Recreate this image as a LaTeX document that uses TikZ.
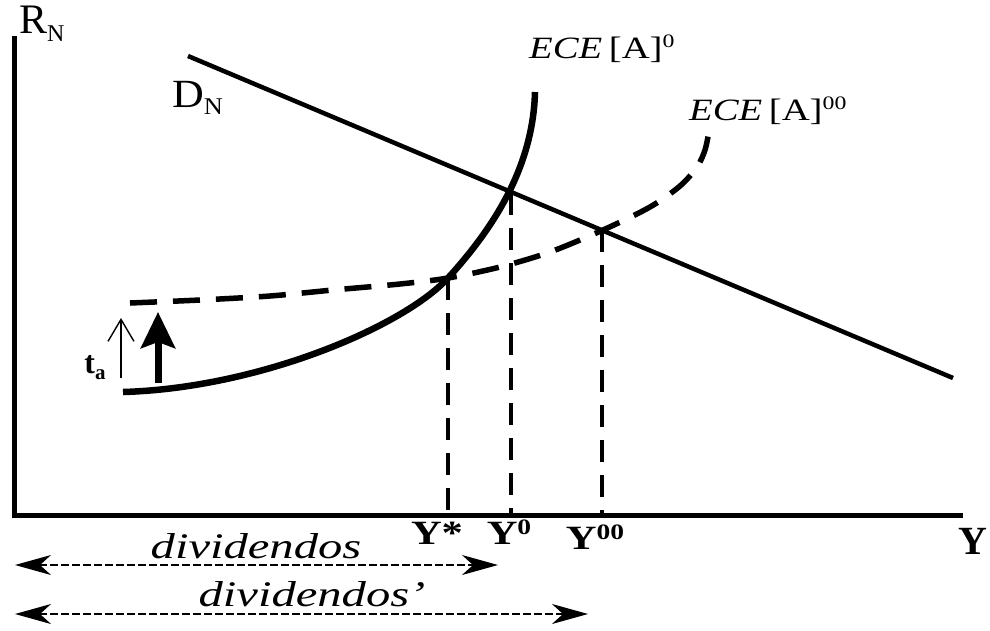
\documentclass[tikz,border=0pt]{standalone}
\usepackage{fontspec}
\setmainfont{Liberation Serif}
\usetikzlibrary{arrows.meta}
\begin{document}
\begin{tikzpicture}[x=1pt,y=-1pt,
  axisline/.style={line width=5pt, line join=miter},
  demand/.style={line width=4.5pt},
  solidcurve/.style={line width=6.5pt},
  dashcurve/.style={line width=5.5pt, dash pattern=on 27pt off 16pt},
  guide/.style={line width=3.2pt, dash pattern=on 22pt off 13pt},
  divarrow/.style={line width=1.5pt, dash pattern=on 8pt off 3pt,
    {Stealth[length=36pt,width=20pt,inset=11pt]}-{Stealth[length=36pt,width=20pt,inset=11pt]}},
  thinarrow/.style={line width=1.4pt, -{Straight Barb[length=22pt,width=26pt]}},
  thickarrow/.style={line width=7pt, -{Stealth[length=36pt,width=34pt,inset=6pt]}},
  lab/.style={inner sep=0pt, anchor=base},
]
\useasboundingbox (0,0) rectangle (990,630);

% axes
\coordinate (ytop) at (14,36);
\coordinate (O) at (14,515);
\coordinate (xend) at (963,515);
\draw[axisline] (ytop) -- (O) -- (xend);

% demand line
\coordinate (D1) at (188,56);
\coordinate (D2) at (953,378);
\draw[demand] (D1) -- (D2);

% equilibrium points
\coordinate (pA) at (448,278);
\coordinate (pB) at (511,193);
\coordinate (pC) at (602,230);

% ECE[A]^0 solid curve
\coordinate (c0s) at (123,392);
\coordinate (c0e) at (535,92);
\draw[solidcurve] (c0s) .. controls (260,388) and (404,326) .. (pA)
  .. controls (490,232) and (533,170) .. (c0e);

% ECE[A]^00 dashed curve
\draw[dashcurve] plot[smooth, tension=0.5] coordinates {(130,303) (200,300) (270,296) (333,290) (400,284) (448,278) (500,267) (550,252) (603,230) (650,207) (680,186) (697,167) (705,150) (709,131)};

% guides
\draw[guide] (pA) -- (pA |- O);
\draw[guide] (pB) -- (pB |- O);
\draw[guide] (pC) -- (pC |- O);

% shift arrows
\coordinate (t1) at (121,378);
\coordinate (t2) at (121,318);
\draw[thinarrow] (t1) -- (t2);
\coordinate (s1) at (158,383);
\coordinate (s2) at (158,312);
\draw[thickarrow] (s1) -- (s2);

% dividend arrows
\coordinate (a1l) at (15,565);
\coordinate (a1r) at (498,565);
\coordinate (a2l) at (15,614);
\coordinate (a2r) at (588,614);
\draw[divarrow] (a1l) -- (a1r);
\draw[divarrow] (a2l) -- (a2r);

% labels
\node[lab, anchor=base west] (RN) at (19,33) {\fontsize{42}{42}\selectfont R\raisebox{-8pt}{\fontsize{24}{24}\selectfont N}};
\node[lab, anchor=base west] (DN) at (172,107) {\scalebox{1.1}[1]{\fontsize{40}{40}\selectfont D\raisebox{-7pt}{\fontsize{24}{24}\selectfont N}}};
\node[lab, anchor=base west] (ece0) at (529,58) {\scalebox{1.25}[1]{\fontsize{31}{31}\selectfont\textit{ECE}\,[A]\raisebox{11pt}{\fontsize{19}{19}\selectfont 0}}};
\node[lab, anchor=base west] (ece00) at (689,120) {\scalebox{1.25}[1]{\fontsize{31}{31}\selectfont\textit{ECE}\,[A]\raisebox{11pt}{\fontsize{19}{19}\selectfont 00}}};
\node[lab] (ta) at (95,373) {\fontsize{32}{32}\selectfont\bfseries t\raisebox{-6pt}{\fontsize{21}{21}\selectfont a}};
\node[lab] (ystar) at (437,544) {\scalebox{1.25}[1]{\fontsize{34}{34}\selectfont\bfseries Y*}};
\node[lab] (y0) at (509,544) {\scalebox{1.25}[1]{\fontsize{34}{34}\selectfont\bfseries Y\raisebox{10pt}{\fontsize{22}{22}\selectfont 0}}};
\node[lab] (y00) at (595,549) {\scalebox{1.25}[1]{\fontsize{34}{34}\selectfont\bfseries Y\raisebox{10pt}{\fontsize{22}{22}\selectfont 00}}};
\node[lab] (Y) at (973,554) {\fontsize{40}{40}\selectfont\bfseries Y};
\node[lab] (div1) at (256,558) {\scalebox{1.35}[1]{\fontsize{36}{36}\selectfont\itshape dividendos}};
\node[lab] (div2) at (312,606) {\scalebox{1.35}[1]{\fontsize{36}{36}\selectfont\itshape dividendos'}};
\end{tikzpicture}
\end{document}
